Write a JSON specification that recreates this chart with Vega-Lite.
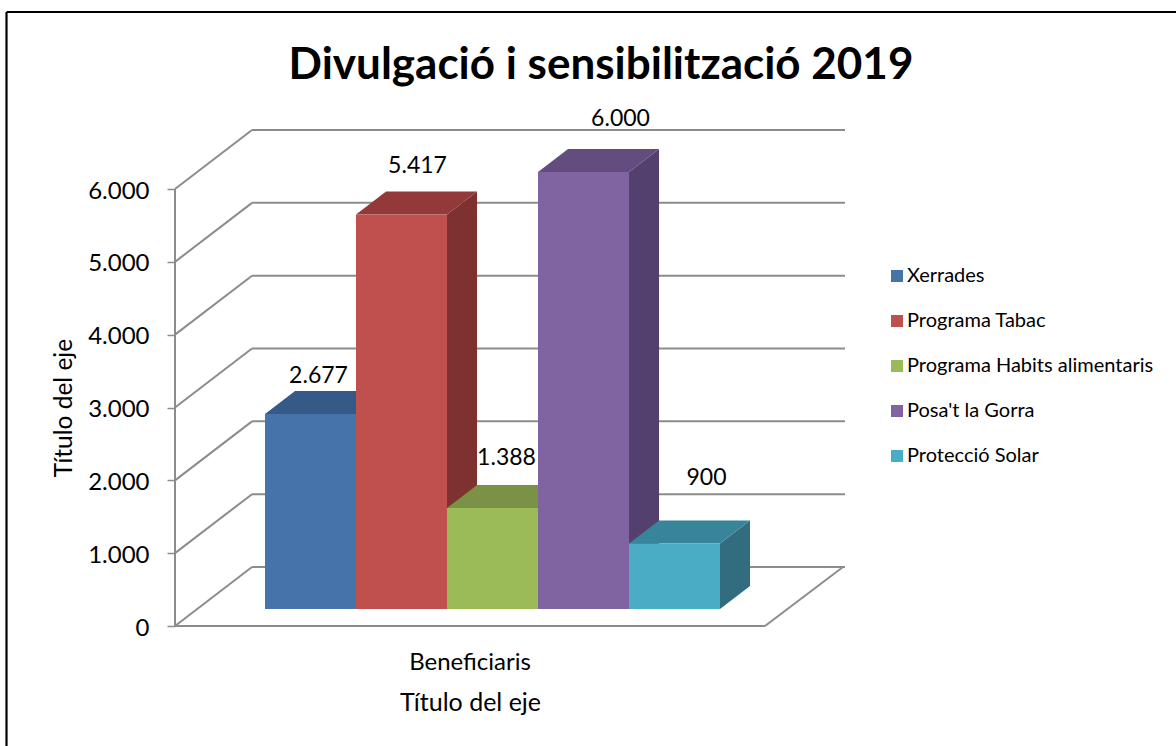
{
 "$schema":"https://vega.github.io/schema/vega-lite/v6.json",
 "autosize":{"type":"none"},
 "padding":{"left":175,"top":189,"right":411,"bottom":120},
 "width":590,"height":437,
 "background":"white",
 "config":{"view":{"stroke":null},"font":"Lato","locale":{"number":{"decimal":",","thousands":".","grouping":[3],"currency":["","€"]}}},
 "title":{"text":"Divulgació i sensibilització 2019","anchor":"middle","frame":"group","dx":131,"dy":77,"offset":0,"fontSize":44,"font":"Lato","fontWeight":"bold","color":"#000000"},
 "datasets":{
  "bars":[
   {"cat":"Beneficiaris","series":"Xerrades","value":2677},
   {"cat":"Beneficiaris","series":"Programa Tabac","value":5417},
   {"cat":"Beneficiaris","series":"Programa Habits alimentaris","value":1388},
   {"cat":"Beneficiaris","series":"Posa't la Gorra","value":6000},
   {"cat":"Beneficiaris","series":"Protecció Solar","value":900}
  ],
  "frame":[
   {"kind":"border","x0":-168.5,"y0":8430,"x1":1001,"y1":8430},
   {"kind":"border","x0":-168.5,"y0":8430,"x1":-168.5,"y1":-1648},
   {"kind":"wall","x0":0,"y0":0,"x1":0,"y1":6000},
   {"kind":"wall","x0":0,"y0":0,"x1":590,"y1":0},
   {"kind":"wall","x0":590,"y0":0,"x1":668,"y1":810},
   {"kind":"wall","x0":0,"y0":0,"x1":77,"y1":810},
   {"kind":"wall","x0":0,"y0":1000,"x1":77,"y1":1810},
   {"kind":"wall","x0":0,"y0":2000,"x1":77,"y1":2810},
   {"kind":"wall","x0":0,"y0":3000,"x1":77,"y1":3810},
   {"kind":"wall","x0":0,"y0":4000,"x1":77,"y1":4810},
   {"kind":"wall","x0":0,"y0":5000,"x1":77,"y1":5810},
   {"kind":"wall","x0":0,"y0":6000,"x1":77,"y1":6810},
   {"kind":"wall","x0":77,"y0":810,"x1":670,"y1":810},
   {"kind":"wall","x0":77,"y0":1810,"x1":670,"y1":1810},
   {"kind":"wall","x0":77,"y0":2810,"x1":670,"y1":2810},
   {"kind":"wall","x0":77,"y0":3810,"x1":670,"y1":3810},
   {"kind":"wall","x0":77,"y0":4810,"x1":670,"y1":4810},
   {"kind":"wall","x0":77,"y0":5810,"x1":670,"y1":5810},
   {"kind":"wall","x0":77,"y0":6810,"x1":670,"y1":6810}
  ]
 },
 "data":{"name":"bars"},
 "resolve":{"scale":{"x":"independent","color":"independent"},"axis":{"x":"independent"},"legend":{"color":"independent"}},
 "layer":[
  {
   "data":{"name":"frame"},
   "mark":{"type":"rule","clip":false},
   "encoding":{
    "x":{"field":"x0","type":"quantitative","scale":{"domain":[0,590],"nice":false,"zero":false},"axis":null},
    "x2":{"field":"x1"},
    "y":{"field":"y0","type":"quantitative","scale":{"domain":[0,6000],"nice":false},
      "axis":{"title":"Título del eje","titleFontSize":24.5,"titleFontWeight":"normal","titleColor":"#000000","titlePadding":11,"labelFontSize":24,"labelColor":"#000000","labelPadding":18,"labelOffset":2,"tickColor":"#8c8c8c","tickWidth":1.5,"tickSize":8,"domain":false,"grid":false,"values":[0,1000,2000,3000,4000,5000,6000],"format":",d"}},
    "y2":{"field":"y1"},
    "stroke":{"field":"kind","type":"nominal","scale":{"domain":["border","wall"],"range":["#000000","#8c8c8c"]},"legend":null},
    "strokeWidth":{"field":"kind","type":"nominal","scale":{"domain":["border","wall"],"range":[2.2,2]},"legend":null}
   }
  },
  {
   "mark":{"type":"point","filled":true,"opacity":1,"size":8281,"yOffset":-17,"strokeWidth":0},
   "encoding":{
    "x":{"field":"cat","type":"nominal","scale":{"paddingInner":0,"paddingOuter":0},"axis":null},
    "xOffset":{"field":"series","type":"nominal","sort":null,"scale":{"domain":["Xerrades","Programa Tabac","Programa Habits alimentaris","Posa't la Gorra","Protecció Solar"],"range":[90,545],"paddingInner":0,"paddingOuter":0}},
    "y":{"field":"value","type":"quantitative"},
    "color":{"field":"series","type":"nominal","sort":null,"legend":null,"scale":{"domain":["Xerrades","Programa Tabac","Programa Habits alimentaris","Posa't la Gorra","Protecció Solar"],"range":["#2f5079","#7d3230","#6f8540","#53406f","#326d7f"]}},
    "shape":{"field":"series","type":"nominal","sort":null,"legend":null,"scale":{"domain":["Xerrades","Programa Tabac","Programa Habits alimentaris","Posa't la Gorra","Protecció Solar"],"range":[
      "M1,0L1.66,-0.505L1.66,3.778L1,4.283Z",
      "M1,0L1.66,-0.505L1.66,8.162L1,8.667Z",
      "M1,0L1.66,-0.505L1.66,1.716L1,2.221Z",
      "M1,0L1.66,-0.505L1.66,9.095L1,9.6Z",
      "M1,0L1.66,-0.505L1.66,0.935L1,1.44Z"]}}
   }
  },
  {
   "mark":{"type":"point","filled":true,"opacity":1,"size":8281,"yOffset":-17,"strokeWidth":0,"shape":"M-1,0L1,0L1.66,-0.505L-0.34,-0.505Z"},
   "encoding":{
    "x":{"field":"cat","type":"nominal","scale":{"paddingInner":0,"paddingOuter":0},"axis":null},
    "xOffset":{"field":"series","type":"nominal","sort":null},
    "y":{"field":"value","type":"quantitative"},
    "color":{"field":"series","type":"nominal","sort":null,"legend":null,"scale":{"domain":["Xerrades","Programa Tabac","Programa Habits alimentaris","Posa't la Gorra","Protecció Solar"],"range":["#355a88","#93393a","#7a9146","#634d7f","#38849a"]}}
   }
  },
  {
   "mark":{"type":"bar","yOffset":-17,"y2Offset":-17},
   "encoding":{
    "x":{"field":"cat","type":"nominal","scale":{"paddingInner":0,"paddingOuter":0},
      "axis":{"title":"Título del eje","titleFontSize":25,"titleFontWeight":"normal","titleColor":"#000000","titlePadding":16,"labelFontSize":24,"labelColor":"#000000","labelAngle":0,"labelPadding":24,"ticks":false,"domain":false}},
    "xOffset":{"field":"series","type":"nominal","sort":null},
    "y":{"field":"value","type":"quantitative"},
    "color":{"field":"series","type":"nominal","sort":null,"title":null,
     "scale":{"domain":["Xerrades","Programa Tabac","Programa Habits alimentaris","Posa't la Gorra","Protecció Solar"],"range":["#4674aa","#c0504d","#9bbb59","#8064a2","#4bacc6"]},
     "legend":{"orient":"none","legendX":712,"legendY":77,"symbolType":"square","symbolSize":144,"symbolStrokeWidth":0,"labelFontSize":20,"labelColor":"#000000","labelLimit":320,"labelOffset":0,"rowPadding":25,"padding":0}}
   }
  },
  {"transform":[{"filter":"datum.series=='Xerrades'"}],"mark":{"type":"text","fontSize":23,"color":"#000000","dx":8,"dy":-55},"encoding":{"x":{"field":"cat","type":"nominal","scale":{"paddingInner":0,"paddingOuter":0},"axis":null},"xOffset":{"field":"series","type":"nominal","sort":null},"y":{"field":"value","type":"quantitative"},"text":{"field":"value","type":"quantitative","format":",d"}}},
  {"transform":[{"filter":"datum.series=='Programa Tabac'"}],"mark":{"type":"text","fontSize":23,"color":"#000000","dx":16,"dy":-65},"encoding":{"x":{"field":"cat","type":"nominal","scale":{"paddingInner":0,"paddingOuter":0},"axis":null},"xOffset":{"field":"series","type":"nominal","sort":null},"y":{"field":"value","type":"quantitative"},"text":{"field":"value","type":"quantitative","format":",d"}}},
  {"transform":[{"filter":"datum.series=='Programa Habits alimentaris'"}],"mark":{"type":"text","fontSize":23,"color":"#000000","dx":14,"dy":-67},"encoding":{"x":{"field":"cat","type":"nominal","scale":{"paddingInner":0,"paddingOuter":0},"axis":null},"xOffset":{"field":"series","type":"nominal","sort":null},"y":{"field":"value","type":"quantitative"},"text":{"field":"value","type":"quantitative","format":",d"}}},
  {"transform":[{"filter":"datum.series==\"Posa't la Gorra\""}],"mark":{"type":"text","fontSize":23,"color":"#000000","dx":37,"dy":-70},"encoding":{"x":{"field":"cat","type":"nominal","scale":{"paddingInner":0,"paddingOuter":0},"axis":null},"xOffset":{"field":"series","type":"nominal","sort":null},"y":{"field":"value","type":"quantitative"},"text":{"field":"value","type":"quantitative","format":",d"}}},
  {"transform":[{"filter":"datum.series=='Protecció Solar'"}],"mark":{"type":"text","fontSize":23,"color":"#000000","dx":32,"dy":-82},"encoding":{"x":{"field":"cat","type":"nominal","scale":{"paddingInner":0,"paddingOuter":0},"axis":null},"xOffset":{"field":"series","type":"nominal","sort":null},"y":{"field":"value","type":"quantitative"},"text":{"field":"value","type":"quantitative","format":",d"}}}
 ]
}
